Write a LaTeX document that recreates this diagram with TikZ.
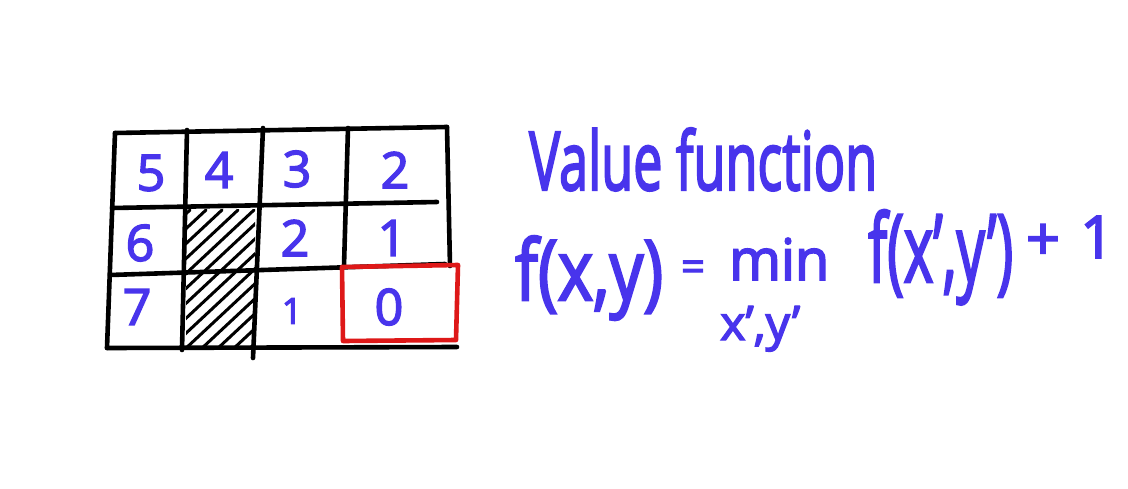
\documentclass[tikz,border=0pt]{standalone}
\usepackage{fontspec}
\setmainfont{Open Sans}
\newfontfamily\handfont{Open Sans}[FakeBold=3]
\usepackage{graphicx}
\definecolor{ink}{RGB}{72,52,236}
\definecolor{redink}{RGB}{222,24,24}
\begin{document}
\begin{tikzpicture}[x=1pt,y=-1pt,
  gridline/.style={line width=4.6pt, line cap=round, black},
  hatchline/.style={line width=3pt, line cap=round, black},
  digit/.style={text=ink, font=\fontsize{50}{54}\handfont, inner sep=0pt},
  hand/.style={text=ink, font=\handfont, inner sep=0pt, anchor=base west}]
\useasboundingbox[fill=white] (0,0) rectangle (1128,488);
% hatching
\begin{scope}
\clip (186,209) rectangle (255,345);
\foreach \a in {40,56,...,280} \draw[hatchline] (\a,350) -- ++(150,-140);
\end{scope}
% grid
\draw[gridline] (115,133) -- (447,127);
\draw[gridline] (115,133) -- (107,348);
\draw[gridline] (447,127) -- (450,266);
\draw[gridline] (107,348) -- (457,347);
\draw[gridline] (187,130) -- (182,350);
\draw[gridline] (263,128) -- (253,358);
\draw[gridline] (348,128) -- (344,266);
\draw[gridline] (112,208) -- (437,202);
\draw[gridline] (110,275) -- (445,264);
% goal cell
\draw[line width=4.6pt, redink, line join=round] (342,267) -- (458,265) -- (456,340) -- (343,341) -- cycle;
% values
\node[digit] (c11) at (151,173) {5};
\node[digit] (c12) at (219,170) {4};
\node[digit] (c13) at (297,169) {3};
\node[digit] (c14) at (395,170) {2};
\node[digit] (c21) at (140,243) {6};
\node[digit] (c23) at (295,238) {2};
\node[digit] (c24) at (392,238) {1};
\node[digit] (c31) at (137,307) {7};
\node[digit, font=\fontsize{36}{40}\handfont] (c33) at (292,311) {1};
\node[digit] (c34) at (389,307) {0};
% text
\node[hand] (title) at (529,190) {\resizebox{348pt}{62pt}{Value function}};
\node[hand] (lhs) at (515,300) {\resizebox{148pt}{64pt}{f(x,y)}};
\node[text=ink, font=\handfont, inner sep=0pt] (eq) at (693,271) {\resizebox{24pt}{!}{=}};
\node[hand] (min) at (729,280) {\resizebox{100pt}{42pt}{min}};
\node[hand] (sub) at (720,340) {\resizebox{80pt}{34pt}{x’,y’}};
\node[hand] (rhs) at (868,282) {\resizebox{145pt}{72pt}{f(x’,y’)}};
\node[text=ink, font=\handfont, inner sep=0pt] (plus) at (1043,242) {\resizebox{34pt}{!}{+}};
\node[hand] (one) at (1080,258) {\resizebox{!}{42pt}{1}};
\end{tikzpicture}
\end{document}
